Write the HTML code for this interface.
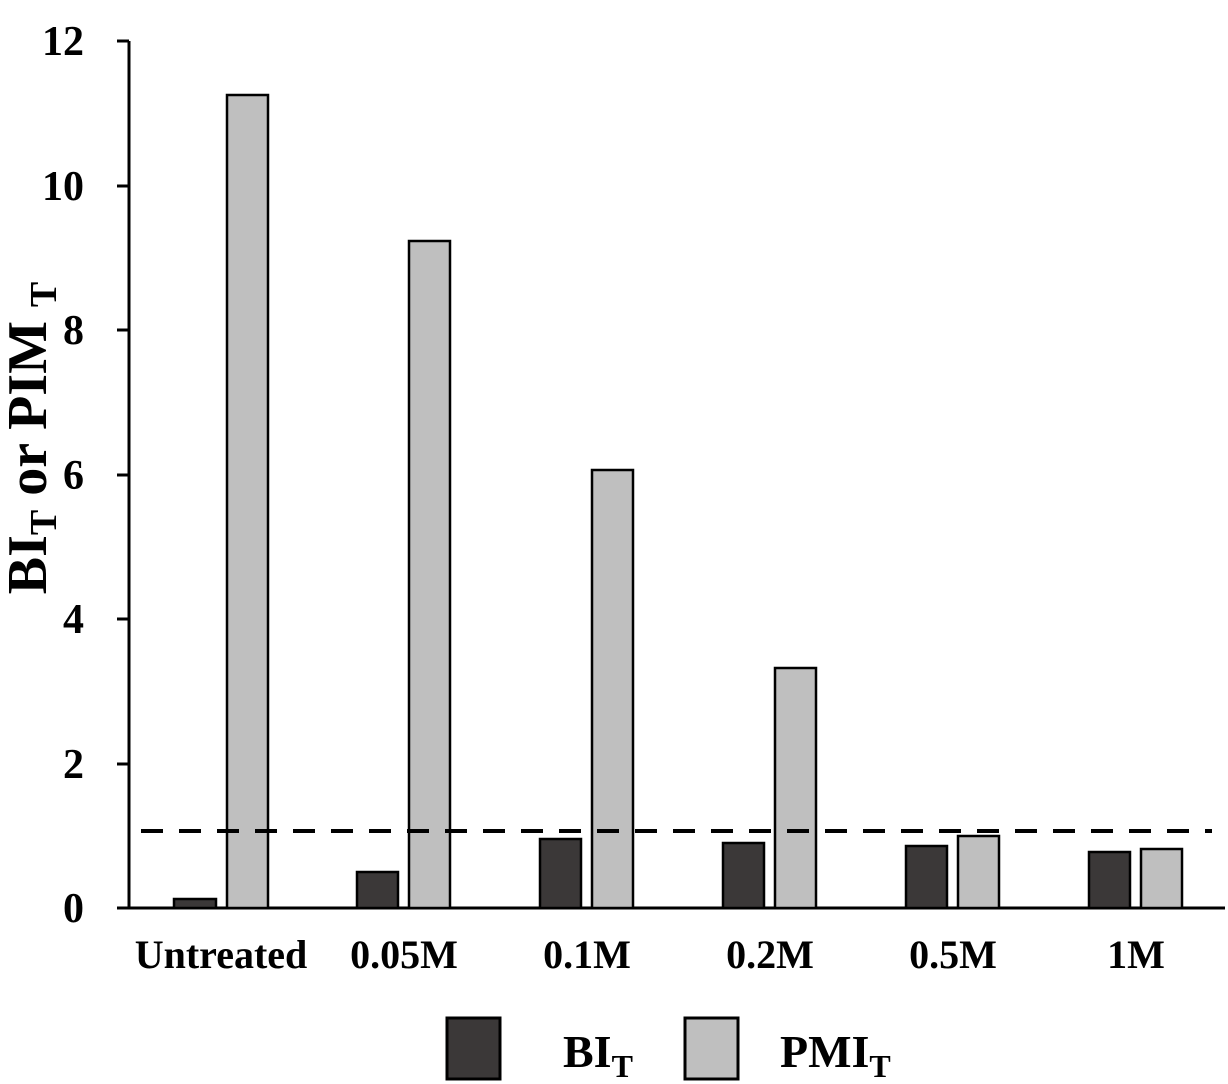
<!DOCTYPE html>
<html><head><style>body{margin:0;background:#fff}svg{display:block}</style></head><body>
<svg width="1228" height="1084" viewBox="0 0 1228 1084" xmlns="http://www.w3.org/2000/svg" font-family="Liberation Serif, serif" font-weight="bold">
<g stroke="#000" stroke-width="3">
<line x1="129" y1="41" x2="129" y2="909"/>
<line x1="117" y1="908" x2="1225" y2="908"/>
<line x1="117" y1="41" x2="129" y2="41"/>
<line x1="117" y1="186" x2="129" y2="186"/>
<line x1="117" y1="330" x2="129" y2="330"/>
<line x1="117" y1="475" x2="129" y2="475"/>
<line x1="117" y1="619" x2="129" y2="619"/>
<line x1="117" y1="764" x2="129" y2="764"/>
</g>
<g font-size="42" text-anchor="end">
<text x="84" y="55">12</text><text x="84" y="200">10</text><text x="84" y="344">8</text>
<text x="84" y="489">6</text><text x="84" y="633">4</text><text x="84" y="778">2</text><text x="84" y="922">0</text>
</g>
<text transform="translate(46,438) rotate(-90)" font-size="56" text-anchor="middle">BI<tspan font-size="38" dy="10">T</tspan><tspan dy="-10"> or PIM </tspan><tspan font-size="38" dy="10">T</tspan></text>
<g stroke="#000" stroke-width="2.5">
<rect x="174" y="899" width="42" height="9" fill="#3b3838"/>
<rect x="227" y="95" width="41" height="813" fill="#bfbfbf"/>
<rect x="357" y="872" width="41" height="36" fill="#3b3838"/>
<rect x="409" y="241" width="41" height="667" fill="#bfbfbf"/>
<rect x="540" y="839" width="41" height="69" fill="#3b3838"/>
<rect x="592" y="470" width="41" height="438" fill="#bfbfbf"/>
<rect x="723" y="843" width="41" height="65" fill="#3b3838"/>
<rect x="775" y="668" width="41" height="240" fill="#bfbfbf"/>
<rect x="906" y="846" width="41" height="62" fill="#3b3838"/>
<rect x="958" y="836" width="41" height="72" fill="#bfbfbf"/>
<rect x="1089" y="852" width="41" height="56" fill="#3b3838"/>
<rect x="1141" y="849" width="41" height="59" fill="#bfbfbf"/>
</g>
<line x1="141" y1="831" x2="1212" y2="831" stroke="#000" stroke-width="4" stroke-dasharray="22,16"/>
<g font-size="40" text-anchor="middle">
<text x="221" y="968">Untreated</text><text x="404" y="968">0.05M</text><text x="587" y="968">0.1M</text>
<text x="770" y="968">0.2M</text><text x="953" y="968">0.5M</text><text x="1136" y="968">1M</text>
</g>
<rect x="447" y="1018" width="53" height="61" fill="#3b3838" stroke="#000" stroke-width="3"/>
<rect x="685" y="1018" width="53" height="61" fill="#bfbfbf" stroke="#000" stroke-width="3"/>
<text x="563" y="1067" font-size="46">BI<tspan font-size="32" dy="10">T</tspan></text>
<text x="780" y="1067" font-size="46">PMI<tspan font-size="32" dy="10">T</tspan></text>
</svg>
</body></html>
